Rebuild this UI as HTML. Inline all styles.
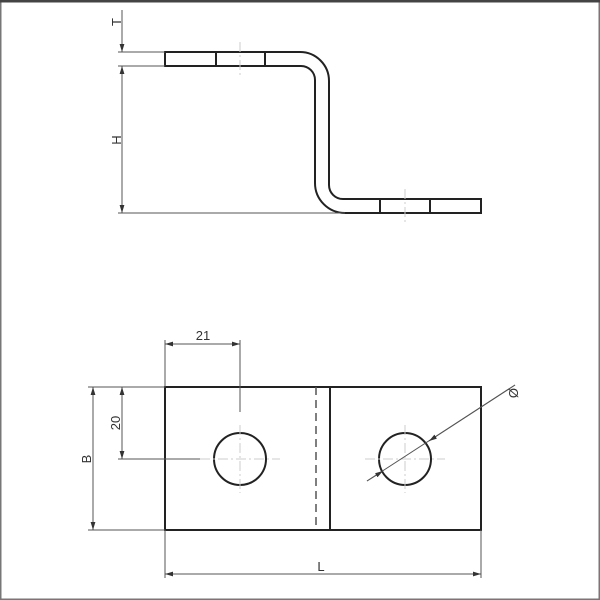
<!DOCTYPE html>
<html><head><style>body{margin:0;background:#fff}svg{display:block}</style></head><body>
<svg width="600" height="600" viewBox="0 0 600 600" xmlns="http://www.w3.org/2000/svg" font-family="Liberation Sans, sans-serif">
<defs>
<marker id="a" viewBox="0 0 10 6" refX="10" refY="3" markerWidth="8" markerHeight="5" orient="auto-start-reverse"><path d="M0,0L10,3L0,6z" fill="#333"/></marker>
</defs>
<rect x="0.5" y="0.5" width="599" height="599" fill="none" stroke="#777" stroke-width="2"/>
<line x1="0" y1="1" x2="600" y2="1" stroke="#444" stroke-width="3"/>
<g fill="none" stroke="#222" stroke-width="2">
<path d="M165,52 H300 A29,29 0 0 1 329,81 V185 A14,14 0 0 0 343,199 H481 V213 H345 A30,30 0 0 1 315,183 V80 A14,14 0 0 0 301,66 H165 Z"/>
<line x1="216" y1="52" x2="216" y2="66"/><line x1="265" y1="52" x2="265" y2="66"/>
<line x1="380" y1="199" x2="380" y2="213"/><line x1="430" y1="199" x2="430" y2="213"/>
<rect x="165" y="387" width="316" height="143"/>
<line x1="330" y1="387" x2="330" y2="530"/>
<circle cx="240" cy="459" r="26"/><circle cx="405" cy="459" r="26"/>
</g>
<line x1="316" y1="387" x2="316" y2="530" stroke="#555" stroke-width="1.5" stroke-dasharray="8,5"/>
<g stroke="#ccc" stroke-width="1" stroke-dasharray="10,3,2,3">
<line x1="240" y1="42" x2="240" y2="76"/><line x1="405" y1="189" x2="405" y2="223"/>
<line x1="200" y1="459" x2="280" y2="459"/><line x1="240" y1="425" x2="240" y2="493"/>
<line x1="365" y1="459" x2="445" y2="459"/><line x1="405" y1="425" x2="405" y2="493"/>
</g>
<g stroke="#555" stroke-width="1" fill="none">
<line x1="118" y1="52" x2="165" y2="52"/><line x1="118" y1="66" x2="165" y2="66"/><line x1="118" y1="213" x2="345" y2="213"/>
<line x1="122" y1="10" x2="122" y2="52" marker-end="url(#a)"/>
<line x1="122" y1="66" x2="122" y2="213" marker-start="url(#a)" marker-end="url(#a)"/>
<line x1="165" y1="340" x2="165" y2="387"/><line x1="240" y1="340" x2="240" y2="412"/>
<line x1="165" y1="344" x2="240" y2="344" marker-start="url(#a)" marker-end="url(#a)"/>
<line x1="88" y1="387" x2="165" y2="387"/><line x1="88" y1="530" x2="165" y2="530"/>
<line x1="118" y1="459" x2="200" y2="459"/>
<line x1="122" y1="387" x2="122" y2="459" marker-start="url(#a)" marker-end="url(#a)"/>
<line x1="93" y1="387" x2="93" y2="530" marker-start="url(#a)" marker-end="url(#a)"/>
<line x1="165" y1="530" x2="165" y2="578"/><line x1="481" y1="530" x2="481" y2="578"/>
<line x1="165" y1="574" x2="481" y2="574" marker-start="url(#a)" marker-end="url(#a)"/>
<line x1="367" y1="481" x2="515" y2="385"/>
<line x1="367" y1="481" x2="383" y2="471" marker-end="url(#a)"/>
<line x1="515" y1="385" x2="429" y2="441" marker-end="url(#a)"/>
</g>
<g fill="#333" font-size="13">
<text x="0" y="0" transform="translate(121,22) rotate(-90)" text-anchor="middle">T</text>
<text x="0" y="0" transform="translate(121,140) rotate(-90)" text-anchor="middle">H</text>
<text x="203" y="340" text-anchor="middle">21</text>
<text x="0" y="0" transform="translate(120,423) rotate(-90)" text-anchor="middle">20</text>
<text x="0" y="0" transform="translate(91,459) rotate(-90)" text-anchor="middle">B</text>
<text x="321" y="571" text-anchor="middle">L</text>
<text x="0" y="0" transform="translate(518,393) rotate(-90)" text-anchor="middle">Ø</text>
</g>
</svg>
</body></html>
